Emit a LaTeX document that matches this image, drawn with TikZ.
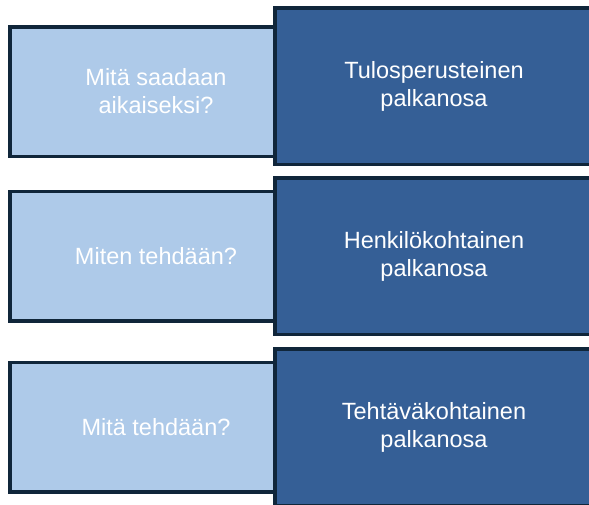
\documentclass[tikz,border=0pt]{standalone}
\usepackage{fontspec}
\setmainfont{Liberation Sans}
\definecolor{kysfill}{RGB}{174,202,233}
\definecolor{osafill}{RGB}{53,95,150}
\definecolor{reuna}{RGB}{16,38,58}
\begin{document}
\begin{tikzpicture}[x=1pt,y=-1pt,
    kysymys/.style={draw=reuna,line width=3.5pt,fill=kysfill,text=white,
        minimum width=292.5pt,minimum height=129.5pt,align=center,
        font=\fontsize{23.5}{28}\selectfont},
    palkka/.style={draw=reuna,line width=3.5pt,fill=osafill,text=white,
        minimum width=318.5pt,minimum height=156.5pt,align=center,
        font=\fontsize{23.5}{28}\selectfont}]
    \clip (0,0) rectangle (589,504);
    \fill[white] (0,0) rectangle (589,504);
    \node[kysymys] (K1) at (156,91.5) {Mitä saadaan\\aikaiseksi?};
    \node[kysymys] (K2) at (156,256) {Miten tehdään?};
    \node[kysymys] (K3) at (156,427) {Mitä tehdään?};
    \node[palkka] (P1) at (434,86) {Tulosperusteinen\\palkanosa};
    \node[palkka] (P2) at (434,256) {Henkilökohtainen\\palkanosa};
    \node[palkka] (P3) at (434,427) {Tehtäväkohtainen\\palkanosa};
\end{tikzpicture}
\end{document}
